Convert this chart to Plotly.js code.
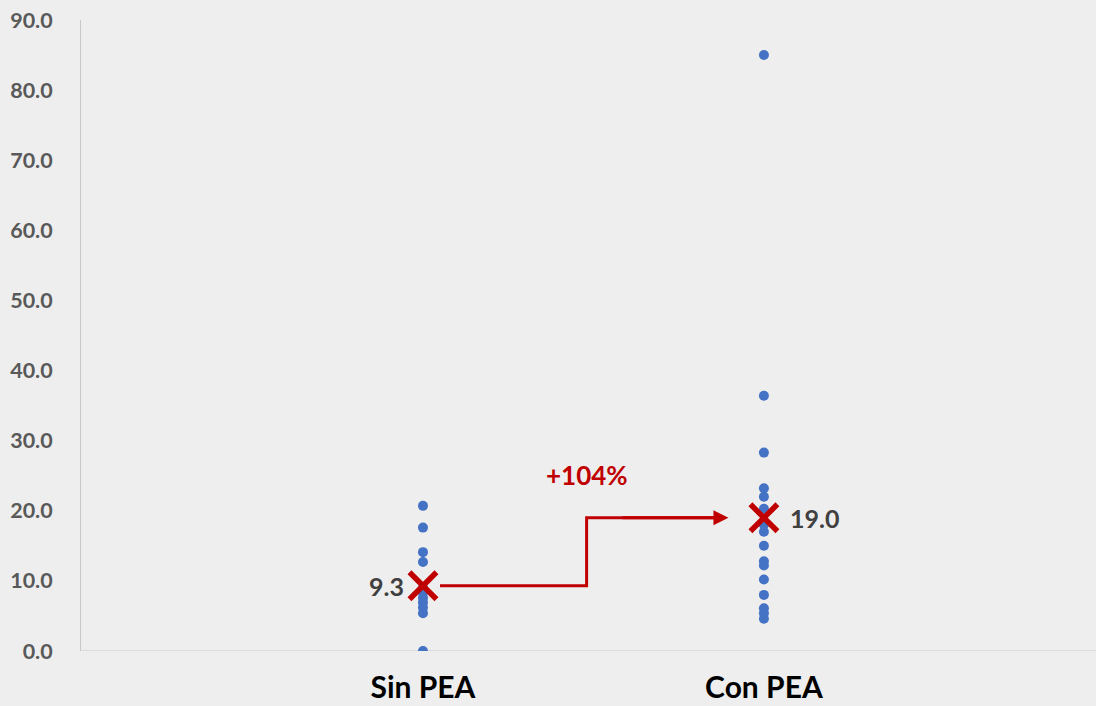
<!DOCTYPE html>
<html>
<head>
<meta charset="utf-8">
<script src="https://cdn.plot.ly/plotly-3.0.1.min.js"></script>
<style>
html,body{margin:0;padding:0;background:#eeeeee;}
#chart{width:1096px;height:706px;}
</style>
</head>
<body>
<div id="chart"></div>
<script>
// ---- data ----
const categories = ["Sin PEA", "Con PEA"];
const sinPEA = [20.7, 17.6, 14.1, 12.7, 9.0, 8.3, 7.6, 6.9, 6.2, 5.4, 0.0];
const conPEA = [85.0, 36.4, 28.3, 23.2, 22.0, 20.3, 18.0, 17.0, 15.0, 12.8, 12.2, 10.2, 8.0, 6.1, 5.4, 4.6];
const means = [9.3, 19.0];
const yTicks = [0, 10, 20, 30, 40, 50, 60, 70, 80, 90];

const xPos = categories.map((c, i) => i);
const series = [sinPEA, conPEA];

const traces = series.map((vals, i) => ({
  type: "scatter", mode: "markers",
  x: vals.map(() => xPos[i]), y: vals,
  marker: {color: "#4472C4", size: 10},
  hoverinfo: "y", showlegend: false
}));

traces.push({
  type: "scatter", mode: "markers",
  x: xPos, y: means,
  marker: {symbol: "x-thin", size: 27, line: {color: "#C00000", width: 5.5}, color: "#C00000"},
  showlegend: false, cliponaxis: false
});

const pct = Math.round((means[1] / means[0] - 1) * 100);
const xStart = xPos[0] + 0.05, xElbow = (xPos[0] + xPos[1]) / 2 - 0.02, xEnd = xPos[1] - 0.104;

const labelFont = {family: "Lato, 'Open Sans', sans-serif", size: 25, color: "#404040", weight: "bold"};

const layout = {
  width: 1096, height: 706,
  margin: {l: 81, r: 0, t: 20, b: 55},
  paper_bgcolor: "#eeeeee", plot_bgcolor: "rgba(0,0,0,0)",
  font: {family: "Lato, 'Open Sans', sans-serif"},
  xaxis: {
    range: [-1.003, 1.974], tickvals: xPos, ticktext: categories,
    showgrid: false, zeroline: false, showline: false, ticks: "",
    tickfont: {size: 30, color: "#000000", weight: "bold"},
    ticklabelstandoff: 16, fixedrange: true
  },
  yaxis: {
    range: [0, 90], tickvals: yTicks, ticktext: yTicks.map(v => v.toFixed(1)),
    showgrid: false, zeroline: false, showline: true, linecolor: "#c8c8c8", linewidth: 1,
    ticks: "", tickfont: {size: 21.5, color: "#595959", weight: "bold"},
    ticklabelstandoff: 23, fixedrange: true
  },
  shapes: [
    {type: "line", xref: "paper", yref: "y", x0: 0, x1: 1, y0: 0, y1: 0,
     line: {color: "#c8c8c8", width: 1}, layer: "below"},
    {type: "path", xref: "x", yref: "y",
     path: `M ${xStart},${means[0]} L ${xElbow},${means[0]} L ${xElbow},${means[1]} L ${xEnd - 0.02},${means[1]}`,
     line: {color: "#C00000", width: 3}}
  ],
  annotations: [
    {x: xEnd, y: means[1], ax: xElbow + 0.1, ay: means[1], axref: "x", ayref: "y",
     xref: "x", yref: "y", showarrow: true, arrowhead: 2, arrowsize: 1, arrowwidth: 3,
     arrowcolor: "#C00000", text: ""},
    {x: xElbow, y: means[1], xref: "x", yref: "y", yshift: 43, showarrow: false,
     text: "+" + pct + "%", font: {size: 26, color: "#C00000", weight: "bold"}},
    {x: xPos[0], y: means[0], xref: "x", yref: "y", xanchor: "right", xshift: -17,
     showarrow: false, text: means[0].toFixed(1), font: labelFont},
    {x: xPos[1], y: means[1], xref: "x", yref: "y", xanchor: "left", xshift: 24,
     showarrow: false, text: means[1].toFixed(1), font: labelFont}
  ]
};

Plotly.newPlot("chart", traces, layout, {displayModeBar: false, staticPlot: true});
</script>
</body>
</html>
